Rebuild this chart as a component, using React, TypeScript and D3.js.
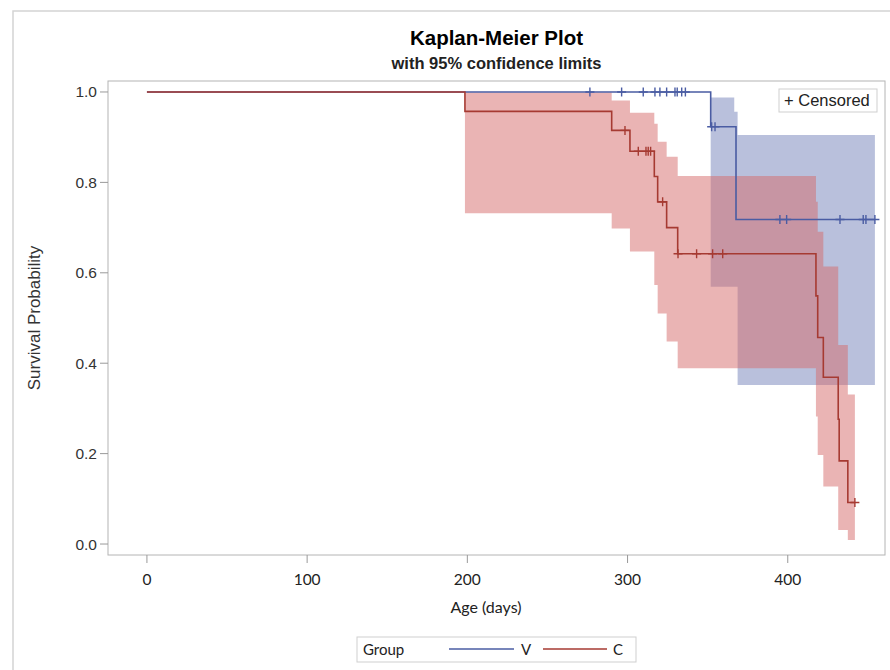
import React from 'react';
import * as d3 from 'd3';

// group V
const vTimes = [0, 351.9, 367.7];
const vSurv = [1.0, 0.923, 0.718];
const vEnd = 454.4;
const vCensor = [276.5, 296.3, 309.8, 317.1, 320.2, 324.4, 329.6, 331.0, 333.8, 336.1, 352.5, 354.6, 395.1, 399.3, 432.6, 447.1, 448.8, 454.4];
const vBandTimes = [351.9, 366.6, 368.7];
const vBandLower = [0.569, 0.569, 0.352];
const vBandUpper = [0.988, 0.956, 0.905];

// group C
const cTimes = [0, 198.5, 290.1, 301.5, 316.7, 318.8, 324.4, 331.3, 417.6, 418.7, 422.2, 431.5, 432.1, 437.5];
const cSurv = [1.0, 0.957, 0.915, 0.869, 0.813, 0.757, 0.7, 0.642, 0.549, 0.457, 0.369, 0.276, 0.184, 0.092];
const cEnd = 441.9;
const cCensor = [298.4, 306.7, 311.5, 312.9, 314.4, 321.9, 331.5, 343.1, 353.1, 359.4, 441.9];
const cBandTimes = [198.5, 290.1, 301.5, 316.7, 318.8, 324.4, 331.3, 417.6, 418.7, 422.2, 431.5, 437.5];
const cBandLower = [0.732, 0.698, 0.647, 0.573, 0.51, 0.448, 0.389, 0.282, 0.197, 0.127, 0.031, 0.009];
const cBandUpper = [0.999, 0.981, 0.954, 0.93, 0.89, 0.857, 0.814, 0.757, 0.691, 0.614, 0.44, 0.331];

const xTicks = [0, 100, 200, 300, 400];
const yTicks = [0, 0.2, 0.4, 0.6, 0.8, 1.0];
const groupNames = ['V', 'C'];

const W = 890;
const H = 670;
const left = 108;
const right = 885;
const top = 81;
const bottom = 555;

const blue = '#4a5ca3';
const red = '#a63a32';

interface Pt {
  t: number;
  s: number;
}
interface Band {
  t: number;
  lo: number;
  hi: number;
}

const App = () => {
  const x = d3.scaleLinear().domain([-24.3, 460.7]).range([left, right]);
  const y = d3.scaleLinear().domain([-0.0243, 1.0243]).range([bottom, top]);

  const stepLine = d3
    .line<Pt>()
    .x((d) => x(d.t))
    .y((d) => y(d.s))
    .curve(d3.curveStepAfter);

  const stepArea = d3
    .area<Band>()
    .x((d) => x(d.t))
    .y0((d) => y(d.lo))
    .y1((d) => y(d.hi))
    .curve(d3.curveStepAfter);

  const curvePts = (times: number[], surv: number[], end: number): Pt[] => {
    const pts = times.map((t, i) => ({ t, s: surv[i] }));
    pts.push({ t: end, s: surv[surv.length - 1] });
    return pts;
  };
  const bandPts = (times: number[], lo: number[], hi: number[], end: number): Band[] => {
    const pts = times.map((t, i) => ({ t, lo: lo[i], hi: hi[i] }));
    pts.push({ t: end, lo: lo[lo.length - 1], hi: hi[hi.length - 1] });
    return pts;
  };
  const survAt = (times: number[], surv: number[], t: number) => {
    const i = d3.bisectRight(times, t) - 1;
    return surv[Math.max(0, i)];
  };

  // censor mark: small plus
  const plus = (t: number, s: number) => {
    const px = x(t);
    const py = y(s);
    const r = 4.5;
    return `M${px - r},${py}H${px + r}M${px},${py - r}V${py + r}`;
  };

  const groups = [
    {
      name: groupNames[0],
      color: blue,
      fill: '#7381b9',
      line: curvePts(vTimes, vSurv, vEnd),
      band: bandPts(vBandTimes, vBandLower, vBandUpper, vEnd),
      censor: vCensor.map((t) => plus(t, survAt(vTimes, vSurv, t))).join(''),
    },
    {
      name: groupNames[1],
      color: red,
      fill: '#d56969',
      line: curvePts(cTimes, cSurv, cEnd),
      band: bandPts(cBandTimes, cBandLower, cBandUpper, cEnd),
      censor: cCensor.map((t) => plus(t, survAt(cTimes, cSurv, t))).join(''),
    },
  ];

  const arial = 'Arial, "Liberation Sans", sans-serif';
  const calibri = 'Lato, "Open Sans", sans-serif';
  const cx = (left + right) / 2;

  return (
    <svg width={W} height={H} style={{ position: 'absolute', left: 0, top: 0, background: '#fff' }}>
      <rect x={13} y={11} width={900} height={700} fill="none" stroke="#d4d4d4" strokeWidth={1.5} />

      <text x={cx} y={45} textAnchor="middle" fontFamily={arial} fontWeight="bold" fontSize={20.5} fill="#000">
        Kaplan-Meier Plot
      </text>
      <text x={cx} y={69} textAnchor="middle" fontFamily={arial} fontWeight="bold" fontSize={16.5} fill="#222">
        with 95% confidence limits
      </text>

      {groups.map((g) => (
        <path key={'b' + g.name} d={stepArea(g.band) || ''} fill={g.fill} fillOpacity={0.5} stroke="none" />
      ))}
      {groups.map((g) => (
        <g key={'l' + g.name}>
          <path d={stepLine(g.line) || ''} fill="none" stroke={g.color} strokeWidth={1.6} />
          <path d={g.censor} fill="none" stroke={g.color} strokeWidth={1.4} />
        </g>
      ))}

      <rect x={left} y={top} width={right - left} height={bottom - top} fill="none" stroke="#b4b4b4" strokeWidth={1} />

      {yTicks.map((v) => (
        <g key={'y' + v}>
          <line x1={left - 8} x2={left} y1={y(v)} y2={y(v)} stroke="#999" />
          <text x={left - 11} y={y(v) + 5.5} textAnchor="end" fontFamily={arial} fontSize={15.5} fill="#333">
            {v.toFixed(1)}
          </text>
        </g>
      ))}
      <text
        transform={`translate(40,${(top + bottom) / 2}) rotate(-90)`}
        textAnchor="middle"
        fontFamily={arial}
        fontSize={17}
        fill="#333"
      >
        Survival Probability
      </text>

      {xTicks.map((v) => (
        <g key={'x' + v}>
          <line x1={x(v)} x2={x(v)} y1={bottom} y2={bottom + 8} stroke="#999" />
          <text x={x(v)} y={bottom + 30} textAnchor="middle" fontFamily={calibri} fontSize={15.5} fill="#222">
            {v}
          </text>
        </g>
      ))}
      <text x={486} y={613} textAnchor="middle" fontFamily={calibri} fontSize={16} fill="#222">
        Age (days)
      </text>

      <g>
        <rect x={779} y={89} width={98} height={23} fill="#fff" stroke="#cfcfcf" />
        <text x={784} y={106} fontFamily={arial} fontSize={16.5} fill="#222">
          + Censored
        </text>
      </g>

      <g>
        <rect x={357} y={637} width={279} height={25} fill="#fff" stroke="#cfcfcf" />
        <text x={363} y={655} fontFamily={calibri} fontSize={15} fill="#222">
          Group
        </text>
        <line x1={449} x2={514} y1={649} y2={649} stroke={blue} strokeWidth={1.6} />
        <text x={521} y={655} fontFamily={calibri} fontSize={15} fill="#222">
          {groupNames[0]}
        </text>
        <line x1={543} x2={607} y1={649} y2={649} stroke={red} strokeWidth={1.6} />
        <text x={613} y={655} fontFamily={calibri} fontSize={15} fill="#222">
          {groupNames[1]}
        </text>
      </g>
    </svg>
  );
};

export default App;
